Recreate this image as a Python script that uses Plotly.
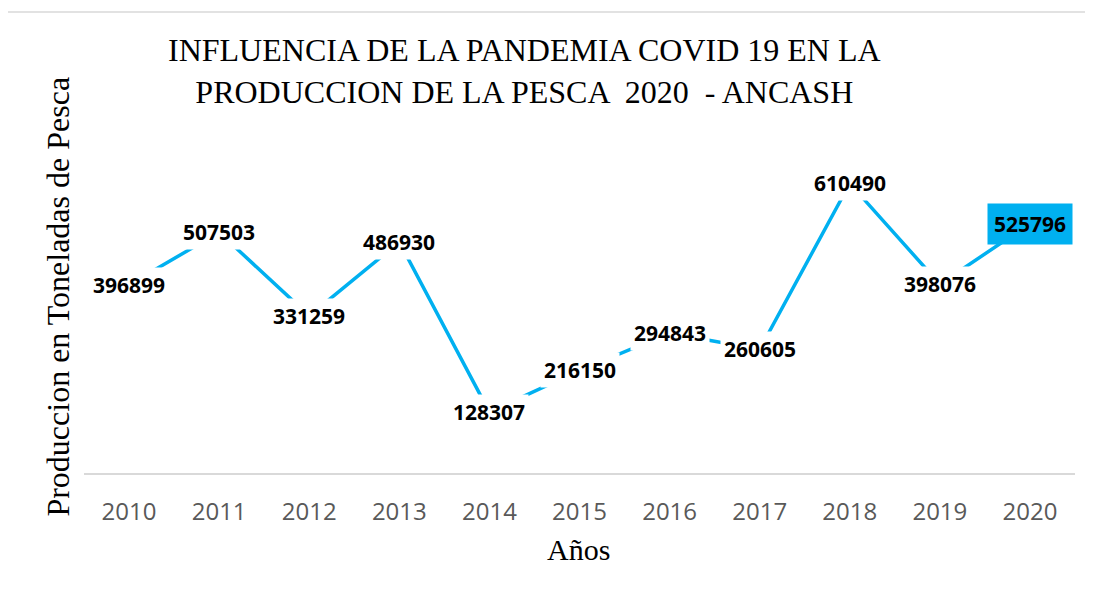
import plotly.graph_objects as go

years = ['2010', '2011', '2012', '2013', '2014', '2015', '2016', '2017', '2018', '2019', '2020']
toneladas = [396899, 507503, 331259, 486930, 128307, 216150, 294843, 260605, 610490, 398076, 525796]

title = 'INFLUENCIA DE LA PANDEMIA COVID 19 EN LA<br>PRODUCCION DE LA PESCA  2020  - ANCASH'
x_title = 'Años'
y_title = 'Produccion en Toneladas de Pesca'

line_color = '#00B0F0'
serif = 'Liberation Serif, Times New Roman, serif'
sans = 'Open Sans, sans-serif'

# the page body adds 8px around the figure, so the figure is 8px smaller
fig = go.Figure(
    data=[
        go.Scatter(x=list(range(len(years))), y=toneladas, mode='lines',
                   line=dict(color=line_color, width=3.5),
                   text=years, hoverinfo='text+y')
    ]
)

# data labels sit on the points with a background that hides the line
annotations = []
for i, val in enumerate(toneladas):
    last = i == len(toneladas) - 1
    annotations.append(dict(
        x=i, y=val, xref='x', yref='y',
        text='<b>%d</b>' % val,
        showarrow=False,
        font=dict(family=sans, size=21, color='black'),
        bgcolor=line_color if last else 'white',
        borderpad=6 if last else 3,
    ))

annotations.append(dict(
    text=title, showarrow=False,
    xref='paper', yref='paper', x=0.4445, y=1.2108,
    xanchor='center', yanchor='middle',
    font=dict(family=serif, size=32, color='black')
))
annotations.append(dict(
    text=y_title, textangle=-90, showarrow=False,
    xref='paper', yref='paper', x=-0.026, y=0.532,
    xanchor='center', yanchor='middle',
    font=dict(family=serif, size=32, color='black')
))
annotations.append(dict(
    text=x_title, showarrow=False,
    xref='paper', yref='paper', x=0.4985, y=-0.229,
    xanchor='center', yanchor='middle',
    font=dict(family=serif, size=30, color='black')
))

fig.update_layout(
    width=1085,
    height=584,
    margin=dict(l=76, r=18, t=133, b=119),
    paper_bgcolor='white',
    plot_bgcolor='white',
    showlegend=False,
    xaxis=dict(
        range=[-0.5, 10.5],
        tickmode='array',
        tickvals=list(range(len(years))),
        ticktext=years,
        showgrid=False,
        zeroline=False,
        showline=True,
        linecolor='#D9D9D9',
        linewidth=1.5,
        ticks='',
        ticklabelstandoff=16,
        tickfont=dict(family=sans, size=24, color='#595959'),
        fixedrange=True
    ),
    yaxis=dict(
        range=[0, 700000],
        showgrid=False,
        showline=False,
        zeroline=False,
        showticklabels=False,
        ticks='',
        fixedrange=True
    ),
    annotations=annotations,
    shapes=[dict(
        type='rect', xref='paper', yref='paper',
        x0=-0.08, x1=1.1, y0=-0.6, y1=1.3886,
        line=dict(color='#D9D9D9', width=1.5),
        fillcolor='rgba(0,0,0,0)', layer='below'
    )]
)

fig.write_html('out.html')
